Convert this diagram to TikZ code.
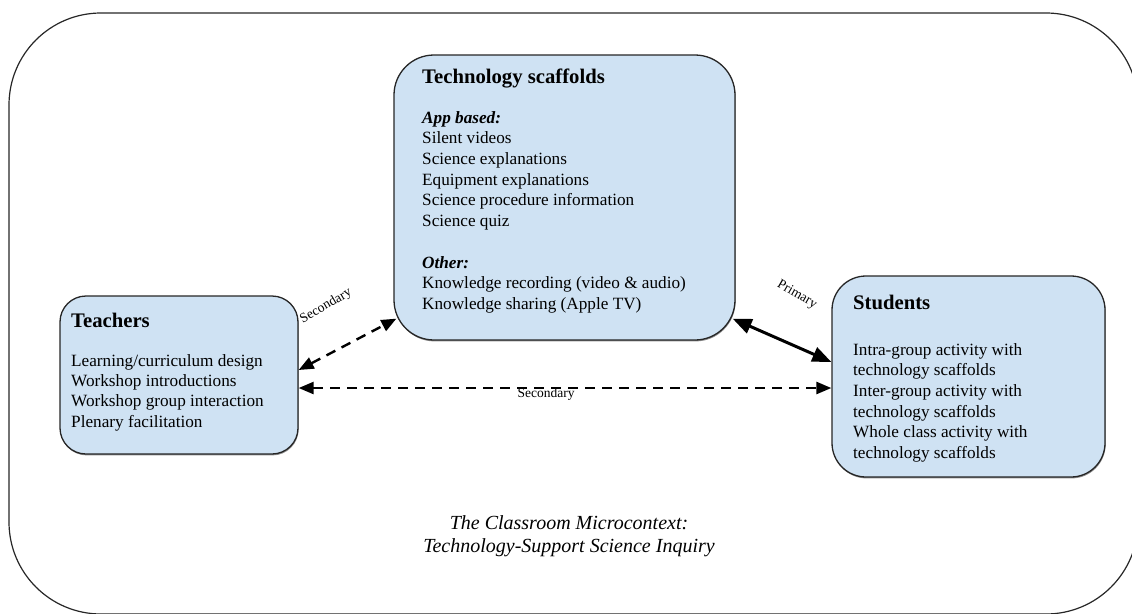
\documentclass[tikz,border=0pt]{standalone}
\usepackage{fontspec}
\setmainfont{Liberation Serif}
\usetikzlibrary{arrows.meta,calc,shadows}
\definecolor{boxblue}{HTML}{CFE2F3}
\begin{document}
\begin{tikzpicture}[x=1pt,y=-1pt,
  panel/.style={draw=black!85, line width=1.3pt, fill=boxblue, inner sep=0pt,
    drop shadow={shadow xshift=0.6pt, shadow yshift=-1.4pt, fill=black!55, opacity=0.8}},
  boxtitle/.style={anchor=base west, inner sep=0pt, font=\fontsize{20.7}{24}\selectfont\bfseries},
  bodyline/.style={anchor=base west, inner sep=0pt, font=\fontsize{17.2}{20.7}\selectfont},
  subhead/.style={anchor=base west, inner sep=0pt, font=\fontsize{17.2}{20.7}\selectfont\bfseries\itshape},
  edgetext/.style={inner sep=0pt, font=\fontsize{13.5}{15}\selectfont},
  captiontext/.style={anchor=base, inner sep=0pt, font=\fontsize{20}{23}\selectfont\itshape},
  secondaryconn/.style={line width=2.4pt, dash pattern=on 10pt off 7pt,
    {Triangle[length=15pt,width=12pt]}-{Triangle[length=15pt,width=12pt]}},
  primaryconn/.style={line width=3pt,
    {Triangle[length=19pt,width=15pt]}-{Triangle[length=19pt,width=15pt]}}
]
\useasboundingbox (0,0) rectangle (1132,613);
\clip (0,0) rectangle (1132,613);

% classroom frame
\draw[line width=1.2pt, black!85, rounded corners=92pt] (9,13) rectangle (1138,614);

% the three panels
\node[panel, rounded corners=40pt, minimum width=341pt, minimum height=285pt] (tech) at (564.5,197.5) {};
\node[panel, rounded corners=26pt, minimum width=238pt, minimum height=158pt] (teach) at (179,375) {};
\node[panel, rounded corners=34pt, minimum width=273pt, minimum height=201pt] (stud) at (968.5,376.5) {};

% technology scaffolds
\node[boxtitle] (techT) at (422,83) {Technology scaffolds};
\node[subhead] (appH) at (422,123) {App based:};
\foreach \t [count=\i] in {Silent videos,Science explanations,Equipment explanations,Science procedure information,Science quiz}
  \node[bodyline] (app\i) at (422,{123+20.7*\i}) {\t};
\node[subhead] (othH) at (422,268) {Other:};
\foreach \t [count=\i] in {Knowledge recording (video \& audio),Knowledge sharing (Apple TV)}
  \node[bodyline] (oth\i) at (422,{268+20.7*\i}) {\t};

% teachers
\node[boxtitle] (teachT) at (71,327) {Teachers};
\foreach \t [count=\i] in {Learning/curriculum design,Workshop introductions,Workshop group interaction,Plenary facilitation}
  \node[bodyline] (teach\i) at (71,{366+20.4*(\i-1)}) {\t};

% students
\node[boxtitle] (studT) at (853,309) {Students};
\foreach \t [count=\i] in {Intra-group activity with,technology scaffolds,Inter-group activity with,technology scaffolds,Whole class activity with,technology scaffolds}
  \node[bodyline] (stud\i) at (853,{355+20.7*(\i-1)}) {\t};

% connectors
\coordinate (tsw) at ($(tech.south west)+(3,-22)$);
\coordinate (tse) at ($(tech.south east)+(-3,-22)$);
\draw[secondaryconn] (teach.east |- 0,370) -- (tsw);
\draw[secondaryconn] (teach.east |- 0,388) -- (stud.west |- 0,388);
\draw[primaryconn] (tse) -- (stud.west |- 0,362);

\node[edgetext, rotate=30] (sec1) at (326,306) {Secondary};
\node[edgetext] (sec2) at (546,394) {Secondary};
\node[edgetext, rotate=-30] (prim) at (797,295) {Primary};

% caption
\node[captiontext] (cap1) at (569,529) {The Classroom Microcontext:};
\node[captiontext] (cap2) at (569,552) {Technology-Support Science Inquiry};
\end{tikzpicture}
\end{document}
